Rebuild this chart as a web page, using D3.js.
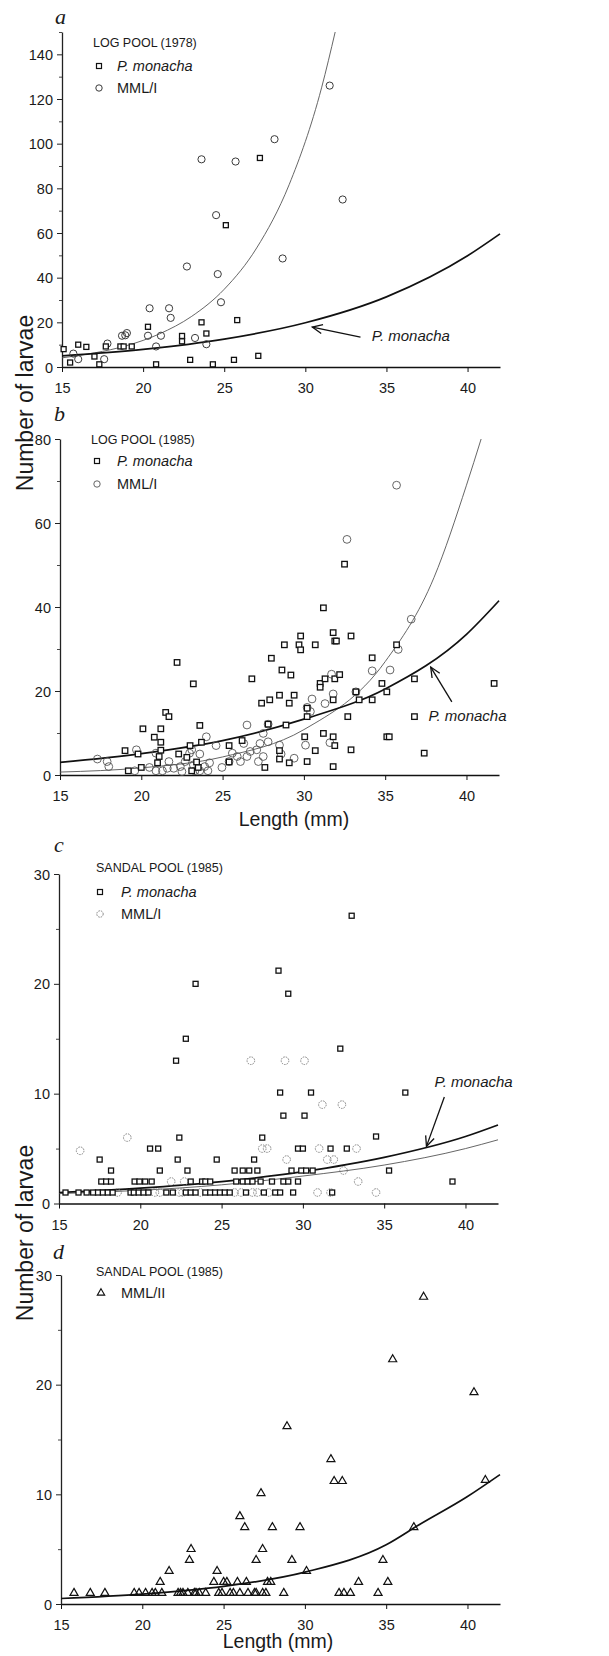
<!DOCTYPE html>
<html><head><meta charset="utf-8">
<script src="https://cdn.jsdelivr.net/npm/d3@7"></script>
<style>
body{margin:0;background:#fff}
svg{display:block}
text{font-family:'Liberation Sans',Arial,Helvetica,sans-serif;fill:#1a1a1a}
</style>
</head><body>
<svg id="chart" width="609" height="1656"></svg>
<script>
// ---------------- DATA ----------------
const xTicks = [15, 20, 25, 30, 35, 40];

// Panel a: LOG POOL (1978)
const aMonacha = [[15.1,8],[15.5,2],[16.0,10],[16.5,9],[17.0,4.7],[17.3,1.2],[17.7,9.2],[18.6,9.2],[18.8,9.2],[19.3,9.2],[20.3,18],[20.8,1.2],[22.4,13.9],[22.4,11.5],[22.9,3.2],[23.6,20],[23.9,15],[24.3,1.2],[25.1,63.5],[25.6,3.2],[25.8,21],[27.1,5],[27.2,93.6]];
const aMML1 = [[15.7,6],[16.0,3.5],[17.6,3.5],[17.8,10.5],[18.7,14],[18.9,14.2],[19.0,15.2],[20.3,14],[20.4,26.3],[20.8,9.2],[21.1,14],[21.6,26.3],[21.7,22],[22.7,45],[23.2,13],[23.9,10.2],[24.5,68],[24.6,41.6],[24.8,29],[28.6,48.6],[32.3,75],[23.6,93],[25.7,92],[28.1,102],[31.5,126]];
const aMonachaFit = [[15,5],[20,7.9],[25,12.5],[30,19.8],[35,31.4],[40,49.8],[42,59.6]];
const aMML1Fit = [[15,4.1],[17,6.3],[19,9.6],[21,14.8],[23,22.7],[25,34.8],[27,53.3],[29,81.6],[31,125],[31.84,150]];
const aYTicks = [0,20,40,60,80,100,120,140];
const aYMinor = [10,30,50,70,90,110,130,150];

// Panel b: LOG POOL (1985)
const bMonacha = [[31.2,39.8],[29.8,33.1],[31.8,33.9],[31.9,31.9],[32.0,31.9],[32.9,33.1],[28.8,31],[29.7,31],[29.8,29.8],[30.7,31],[28.0,27.8],[22.2,26.8],[26.8,22.9],[28.65,25],[29.2,23.8],[23.2,21.7],[31.0,21.8],[31.0,20.9],[31.3,22.9],[31.9,22.9],[32.2,23.9],[34.2,27.9],[35.7,31],[33.2,19.8],[33.4,17.9],[34.2,17.9],[34.8,21.8],[35.1,19.8],[36.8,22.9],[41.7,21.8],[36.8,13.9],[35.1,9.1],[35.25,9.1],[37.4,5.2],[32.7,13.9],[32.9,6],[31.8,9.1],[31.9,7],[31.8,2],[31.2,9.9],[30.7,5.8],[30.2,3.2],[30.2,13.9],[30.2,15.9],[30.05,9.1],[31.8,17.9],[27.9,17.9],[27.4,17.1],[28.5,19],[29.1,17.1],[29.4,19],[28.9,11.9],[27.8,12.1],[28.5,5.8],[28.5,3.8],[29.1,2.9],[27.6,1.8],[25.4,7],[26.2,8.2],[23.6,11.8],[23.7,7.8],[23.0,7],[22.3,5],[21.5,14.9],[21.7,13.9],[21.2,11],[20.1,11],[20.8,9],[21.2,7.8],[21.2,5.9],[21.0,2.9],[21.1,4.4],[19.0,5.8],[19.8,5],[20.0,1.8],[19.2,1],[23.5,1.8],[23.4,3.1],[22.8,4.2],[23.1,1],[25.4,3.1],[32.5,50.2]];
const bMML1 = [[35.7,69],[32.65,56.1],[36.6,37.1],[34.2,24.8],[35.3,25],[35.8,29.9],[33.2,19.8],[31.7,24],[31.8,19.3],[31.3,17],[30.5,18.1],[30.4,15.1],[30.2,16.1],[30.1,7.1],[31.6,7.7],[29.4,4],[28.5,7.1],[28.6,5],[27.8,12.1],[27.5,9.9],[27.8,7.9],[27.3,7.5],[26.5,11.9],[26.3,7.5],[26.7,5.6],[27.1,6],[27.2,3.2],[27.5,4.4],[26.5,4.4],[25.9,4.4],[26.1,3.2],[25.6,5.2],[25.4,3.2],[24.96,1.8],[24.6,7],[24.0,9.1],[23.6,5],[23.1,6],[22.97,5.2],[22.7,3.2],[22.4,2],[22.0,1.6],[21.7,3.2],[21.6,1.6],[21.3,1],[20.9,1],[20.5,1.8],[20.9,5.2],[19.7,6],[19.6,1],[18.0,2],[17.9,3.2],[17.3,3.8],[23.9,2],[24.1,1],[23.6,1],[23.2,2.4],[23.3,1],[24.2,2.9],[22.5,0.8]];
const bMonachaFit = [[15,3],[20,5.1],[25,8.2],[30,13.3],[35,20.5],[40,33.5],[42,41.5]];
const bMML1Fit = [[15,0.7],[20,1.7],[25,4.3],[30,10.8],[35,27],[38,47],[40,69],[40.9,80]];
const bYTicks = [0,20,40,60,80];
const bYMinor = [10,30,50,70];

// Panel c: SANDAL POOL (1985)
const cMonacha = [[33.0,26.2],[28.5,21.2],[23.4,20],[29.1,19.1],[22.8,15],[22.2,13],[32.3,14.1],[28.6,10.1],[30.5,10.1],[36.3,10.1],[28.8,8],[30.1,8],[34.5,6.1],[27.5,6],[22.4,6],[20.6,5],[21.1,5],[29.7,5],[30.0,5],[31.7,5],[32.7,5],[17.5,4],[22.3,4],[24.7,4],[27.0,4],
  [18.2,3],[21.2,3],[22.9,3],[25.8,3],[26.3,3],[26.7,3],[27.2,3],[29.3,3],[29.9,3],[30.2,3],[30.6,3],[35.3,3],
  [17.6,2],[17.9,2],[18.2,2],[19.65,2],[19.95,2],[20.3,2],[20.7,2],[23.1,2],[23.8,2],[24.0,2],[24.3,2],[25.9,2],[26.3,2],[26.6,2],[26.9,2],[27.4,2],[28.1,2],[28.8,2],[29.1,2],[29.7,2],[39.2,2],
  [15.4,1],[16.2,1],[16.7,1],[17.1,1],[17.4,1],[17.7,1],[18.0,1],[18.3,1],[19.4,1],[19.6,1],[19.9,1],[20.2,1],[20.5,1],[21.6,1],[22.0,1],[22.8,1],[23.1,1],[23.4,1],[24.0,1],[24.3,1],[24.6,1],[24.9,1],[25.2,1],[25.5,1],[26.5,1],[27.6,1],[28.3,1],[28.6,1],[29.4,1],[31.8,1]];
const cMML1 = [[16.3,4.8],[19.2,6],[26.8,13],[28.9,13],[30.1,13],[31.2,9],[32.4,9],[27.5,5],[27.8,5],[29.0,4],[31.0,5],[33.3,5],[31.5,4],[31.9,4],[32.5,3],[21.9,2],[22.7,2],[33.4,2],
  [18.6,1],[20.9,1],[21.2,1],[22.4,1],[22.6,1],[23.7,1],[25.8,1],[26.2,1],[26.9,1],[27.2,1],[27.9,1],[30.9,1],[31.7,1],[34.5,1]];
const cMonachaFit = [[15,1.0],[20,1.4],[25,2.0],[30,2.9],[35,4.2],[40,6.1],[42,7.15]];
const cMML1Fit = [[15,0.9],[20,1.2],[25,1.7],[30,2.5],[35,3.5],[40,5.0],[42,5.8]];
const cdYTicks = [0,10,20,30];
const cdYMinor = [5,15,25];

// Panel d: SANDAL POOL (1985), MML/II
const dMML2 = [[37.3,28],[35.4,22.3],[40.4,19.3],[28.9,16.2],[31.6,13.2],[31.8,11.2],[32.3,11.2],[41.1,11.3],[27.3,10.1],[26.0,8],[26.3,7],[28.0,7],[29.7,7],[36.7,7],[23.0,5],[27.4,5],[22.9,4],[27.0,4],[29.2,4],[34.8,4],[21.65,3],[24.6,3],[30.1,3],[21.1,2],[24.4,2],[25.0,2],[25.2,2],[25.85,2],[26.4,2],[27.7,2],[27.9,2],[33.3,2],[35.1,2],
  [15.8,1],[16.8,1],[17.7,1],[19.5,1],[19.8,1],[20.2,1],[20.6,1],[20.8,1],[21.2,1],[22.2,1],[22.35,1],[22.5,1],[22.8,1],[23.2,1],[23.3,1],[23.5,1],[23.9,1],[24.7,1],[24.9,1],[25.4,1],[25.6,1],[26.0,1],[26.5,1],[26.9,1],[27.0,1],[27.4,1],[27.6,1],[28.7,1],[32.1,1],[32.4,1],[32.8,1],[34.5,1]];
const dMML2Fit = [[15,0.5],[20,0.9],[25,1.6],[30,2.9],[35,5.4],[37,7.2],[40,9.8],[42,11.8]];

// ---------------- DRAWING ----------------
const svg = d3.select('#chart');
svg.append('rect').attr('width',609).attr('height',1656).attr('fill','#fff');

const panels = [
  {label:'a', left:62, right:500, top:32, bottom:367, yMax:150, yTicks:aYTicks, yMinor:aYMinor,
   title:'LOG POOL (1978)', titlePos:[93,43], legMarkX:99, legTextX:117, legY:[66,88],
   squares:aMonacha, circles:aMML1, triangles:null, thick:aMonachaFit, thin:aMML1Fit,
   circleStyle:{stroke:'#3a3a3a', w:1, r:3.6, dash:null},
   sq:5, arrow:{tip:[30.43,17.9], tail:[33.4,13.4], text:[34.1,13.9]}, labelPos:[55,24]},
  {label:'b', left:60, right:499, top:439, bottom:775, yMax:80, yTicks:bYTicks, yMinor:bYMinor,
   title:'LOG POOL (1985)', titlePos:[91,440], legMarkX:97, legTextX:117, legY:[461,484],
   squares:bMonacha, circles:bMML1, triangles:null, thick:bMonachaFit, thin:bMML1Fit,
   circleStyle:{stroke:'#555', w:0.9, r:3.9, dash:null},
   sq:5.5, arrow:{tip:[37.8,25.7], tail:[39.1,17.4], text:[37.66,14.0]}, labelPos:[54,421],
   xTitle:[294,819]},
  {label:'c', left:59, right:498, top:874, bottom:1203.5, yMax:30, yTicks:cdYTicks, yMinor:cdYMinor,
   title:'SANDAL POOL (1985)', titlePos:[96,868], legMarkX:100, legTextX:121, legY:[892,914],
   squares:cMonacha, circles:cMML1, triangles:null, thick:cMonachaFit, thin:cMML1Fit,
   circleStyle:{stroke:'#777', w:0.9, r:3.8, dash:'1.6,1'},
   sq:5, arrow:{tip:[37.6,5.2], tail:[38.7,9.7], text:[38.1,11.1]}, labelPos:[54,852]},
  {label:'d', left:61, right:500, top:1275, bottom:1604, yMax:30, yTicks:cdYTicks, yMinor:cdYMinor,
   title:'SANDAL POOL (1985)', titlePos:[96,1272], legMarkX:101, legTextX:121, legY:[1293],
   squares:null, circles:null, triangles:dMML2, thick:dMML2Fit, thin:null,
   sq:5, arrow:null, labelPos:[53,1259], xTitle:[278,1641]}
];

const triSym = d3.symbol().type(d3.symbolTriangle).size(28);

panels.forEach(p => {
  const x = d3.scaleLinear().domain([15,42]).range([p.left,p.right]);
  const y = d3.scaleLinear().domain([0,p.yMax]).range([p.bottom,p.top]);
  const g = svg.append('g');

  // X axis
  const xa = g.append('g').attr('transform',`translate(0,${p.bottom})`)
    .call(d3.axisBottom(x).tickValues(xTicks).tickSize(5).tickSizeOuter(0).tickFormat(d3.format('d')));
  xa.attr('font-family',null).attr('font-size',null);
  xa.select('.domain').attr('stroke','#111').attr('stroke-width',1.4);
  xa.selectAll('.tick line').attr('stroke','#111').attr('stroke-width',1);
  xa.selectAll('.tick text').attr('y',21).attr('dy','0.35em').style('font-size','14.5px').attr('fill','#1a1a1a');

  // Y axis
  const ya = g.append('g').attr('transform',`translate(${p.left},0)`)
    .call(d3.axisLeft(y).tickValues(p.yTicks).tickSize(5).tickSizeOuter(0).tickFormat(d3.format('d')));
  ya.attr('font-family',null).attr('font-size',null);
  ya.select('.domain').attr('stroke','#222').attr('stroke-width',1.3);
  ya.selectAll('.tick line').attr('stroke','#222').attr('stroke-width',1);
  ya.selectAll('.tick text').attr('x',-9).attr('dy','0.35em').style('font-size','14.5px').attr('fill','#1a1a1a');
  const ym = g.append('g').attr('transform',`translate(${p.left},0)`)
    .call(d3.axisLeft(y).tickValues(p.yMinor).tickSize(3).tickFormat(''));
  ym.select('.domain').remove();
  ym.selectAll('.tick line').attr('stroke','#333').attr('stroke-width',0.9);

  // Fit curves
  const line = d3.line().x(d=>x(d[0])).y(d=>y(d[1])).curve(d3.curveMonotoneX);
  if (p.thin) g.append('path').datum(p.thin).attr('d',line).attr('fill','none')
      .attr('stroke','#555').attr('stroke-width',0.9);
  if (p.thick) g.append('path').datum(p.thick).attr('d',line).attr('fill','none')
      .attr('stroke','#111').attr('stroke-width',1.7);

  // Points
  if (p.circles) g.append('g').selectAll('circle').data(p.circles).join('circle')
      .attr('cx',d=>x(d[0])).attr('cy',d=>y(d[1])).attr('r',p.circleStyle.r)
      .attr('fill','none').attr('stroke',p.circleStyle.stroke).attr('stroke-width',p.circleStyle.w)
      .attr('stroke-dasharray',p.circleStyle.dash);
  if (p.squares) g.append('g').selectAll('rect').data(p.squares).join('rect')
      .attr('x',d=>x(d[0])-p.sq/2).attr('y',d=>y(d[1])-p.sq/2).attr('width',p.sq).attr('height',p.sq)
      .attr('fill','#fff').attr('stroke','#111').attr('stroke-width',1.3);
  if (p.triangles) g.append('g').selectAll('path').data(p.triangles).join('path')
      .attr('d',triSym).attr('transform',d=>`translate(${x(d[0])},${y(d[1])})`)
      .attr('fill','none').attr('stroke','#111').attr('stroke-width',1.2);

  // Arrow annotation
  if (p.arrow) {
    const [tx,ty] = [x(p.arrow.tip[0]), y(p.arrow.tip[1])];
    const [sx,sy] = [x(p.arrow.tail[0]), y(p.arrow.tail[1])];
    g.append('line').attr('x1',sx).attr('y1',sy).attr('x2',tx).attr('y2',ty)
      .attr('stroke','#111').attr('stroke-width',1.3);
    const ang = Math.atan2(sy-ty, sx-tx), L = 11, sp = 0.42;
    g.append('path').attr('d',`M${tx+L*Math.cos(ang+sp)},${ty+L*Math.sin(ang+sp)}L${tx},${ty}L${tx+L*Math.cos(ang-sp)},${ty+L*Math.sin(ang-sp)}`)
      .attr('fill','none').attr('stroke','#111').attr('stroke-width',1.3);
    g.append('text').attr('x',x(p.arrow.text[0])).attr('y',y(p.arrow.text[1])).attr('dy','0.35em')
      .style('font-size','15px').style('font-style','italic').text('P. monacha');
  }

  // Legend
  g.append('text').attr('x',p.titlePos[0]).attr('y',p.titlePos[1]).attr('dy','0.35em')
    .style('font-size','12.5px').text(p.title);
  if (p.squares) {
    g.append('rect').attr('x',p.legMarkX-2.5).attr('y',p.legY[0]-2.5).attr('width',5).attr('height',5)
      .attr('fill','#fff').attr('stroke','#111').attr('stroke-width',1.2);
    g.append('text').attr('x',p.legTextX).attr('y',p.legY[0]).attr('dy','0.35em')
      .style('font-size','14.5px').style('font-style','italic').text('P. monacha');
    g.append('circle').attr('cx',p.legMarkX).attr('cy',p.legY[1]).attr('r',3.2)
      .attr('fill','none').attr('stroke',p.circleStyle.stroke).attr('stroke-width',p.circleStyle.w)
      .attr('stroke-dasharray',p.circleStyle.dash);
    g.append('text').attr('x',p.legTextX).attr('y',p.legY[1]).attr('dy','0.35em')
      .style('font-size','14.5px').text('MML/I');
  } else {
    g.append('path').attr('d',d3.symbol().type(d3.symbolTriangle).size(24))
      .attr('transform',`translate(${p.legMarkX},${p.legY[0]})`)
      .attr('fill','none').attr('stroke','#111').attr('stroke-width',1.1);
    g.append('text').attr('x',p.legTextX).attr('y',p.legY[0]).attr('dy','0.35em')
      .style('font-size','14.5px').text('MML/II');
  }

  // Panel letter
  g.append('text').attr('x',p.labelPos[0]).attr('y',p.labelPos[1])
    .style('font-family',"'Liberation Serif','Times New Roman',serif").style('font-style','italic')
    .style('font-size','22px').text(p.label);

  if (p.xTitle) g.append('text').attr('x',p.xTitle[0]).attr('y',p.xTitle[1]).attr('dy','0.35em')
    .attr('text-anchor','middle').style('font-size','19.5px').text('Length (mm)');
});

// Y axis titles
[[25,403],[25,1233]].forEach(([cx,cy]) => {
  svg.append('text').attr('transform',`translate(${cx},${cy}) rotate(-90)`).attr('dy','0.35em')
    .attr('text-anchor','middle').style('font-size','23px').text('Number of larvae');
});
</script>
</body></html>
